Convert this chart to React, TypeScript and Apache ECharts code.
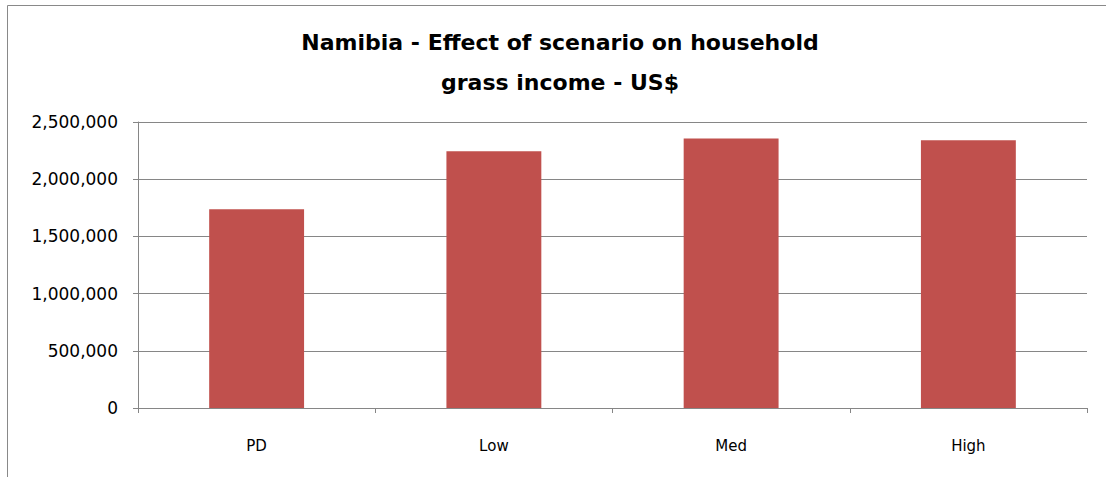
import React, { useEffect, useRef } from "react";
import * as echarts from "echarts";

const categories = ["PD", "Low", "Med", "High"];
const incomeValues = [1738000, 2244000, 2355000, 2340000];
const yTicks = { min: 0, max: 2500000, interval: 500000 };
const titleLines = ["Namibia - Effect of scenario on household", "grass income - US$"];

export default function App() {
  const ref = useRef<HTMLDivElement>(null);
  useEffect(() => {
    const chart = echarts.init(ref.current!, null, { renderer: "svg" });
    const titleStyle = {
      fontFamily: "DejaVu Sans",
      fontWeight: "bold",
      fontSize: 22,
      fill: "#000000",
      textAlign: "center",
      textVerticalAlign: "middle",
    };
    chart.setOption({
      animation: false,
      backgroundColor: "#ffffff",
      graphic: [
        {
          type: "rect",
          shape: { x: 7.5, y: 5.5, width: 1300, height: 700 },
          style: { fill: "none", stroke: "#898989", lineWidth: 1 },
          silent: true,
          z: -10,
        },
        {
          type: "text",
          x: 560,
          y: 42,
          style: { ...titleStyle, text: titleLines[0] },
        },
        {
          type: "text",
          x: 560,
          y: 82,
          style: { ...titleStyle, text: titleLines[1] },
        },
      ],
      grid: { left: 138, right: 19, top: 122, bottom: 69 },
      xAxis: {
        type: "category",
        data: categories,
        axisLine: { lineStyle: { color: "#868686", width: 1 } },
        axisTick: { show: true, length: 5, lineStyle: { color: "#868686" } },
        axisLabel: {
          color: "#000000",
          fontFamily: "DejaVu Sans",
          fontSize: 15,
          margin: 30,
        },
      },
      yAxis: {
        type: "value",
        min: yTicks.min,
        max: yTicks.max,
        interval: yTicks.interval,
        axisLine: { show: true, lineStyle: { color: "#868686", width: 1 } },
        axisTick: { show: true, length: 5, lineStyle: { color: "#868686" } },
        splitLine: { show: true, lineStyle: { color: "#868686", width: 1 } },
        axisLabel: {
          color: "#000000",
          fontFamily: "DejaVu Sans",
          fontSize: 17,
          margin: 20,
          formatter: (v: number) => v.toLocaleString("en-US"),
        },
      },
      series: [
        {
          type: "bar",
          data: incomeValues,
          barWidth: "40%",
          itemStyle: { color: "#C0504D" },
        },
      ],
    });
    return () => chart.dispose();
  }, []);
  return (
    <div
      ref={ref}
      style={{ position: "absolute", left: 0, top: 0, width: 1106, height: 477 }}
    />
  );
}
